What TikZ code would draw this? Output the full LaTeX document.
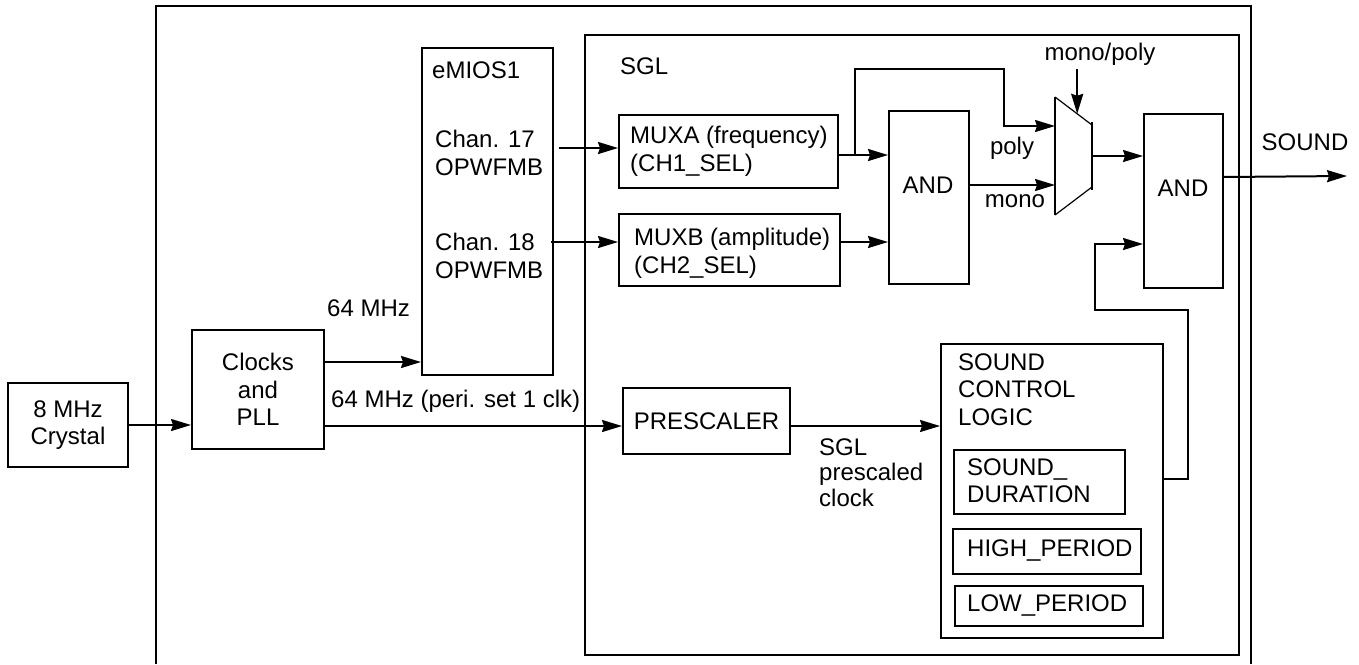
\documentclass[tikz,border=0pt]{standalone}
\usepackage{fontspec}
\setmainfont{Liberation Sans}
\usetikzlibrary{arrows.meta,calc}

\begin{document}
\begin{tikzpicture}[
  x=1pt, y=-1pt,
  every node/.style={font=\fontsize{24}{27.5}\selectfont, inner sep=0pt},
  blk/.style={draw, line width=2pt, anchor=north west, align=center},
  lbl/.style={anchor=west, align=left},
  wire/.style={line width=2pt},
  arr/.style={wire, -{Stealth[length=20pt, width=12pt, inset=2pt]}},
  thinedge/.style={line width=1.2pt}
]
\useasboundingbox (0,0) rectangle (1359,664);

% outer module frame (open at the bottom)
\draw[wire] (156,664) -- (156,6) -- (1251,6) -- (1251,664);

% blocks
\node[blk, minimum width=120pt, minimum height=84pt]  (crystal) at (7,382)   {8 MHz\\Crystal};
\node[blk, minimum width=132pt, minimum height=119pt] (clocks)  at (191,329) {Clocks\\and\\PLL};
\node[blk, minimum width=131pt, minimum height=327pt] (emios)   at (421,47)  {};
\node[blk, minimum width=654pt, minimum height=620pt] (sgl)     at (584,34)  {};
\node[blk, minimum width=219pt, minimum height=73pt]  (muxa)    at (618,114) {};
\node[blk, minimum width=221pt, minimum height=72pt]  (muxb)    at (618,213) {};
\node[blk, minimum width=80pt,  minimum height=173pt] (and1)    at (888,110) {};
\node[blk, minimum width=79pt,  minimum height=174pt] (and2)    at (1143,113) {};
\node[blk, minimum width=167pt, minimum height=66pt]  (pre)     at (622,387) {PRESCALER};
\node[blk, minimum width=222pt, minimum height=294pt] (scl)     at (940,343) {};
\node[blk, minimum width=171pt, minimum height=64pt]  (dur)     at (953,449) {};
\node[blk, minimum width=188pt, minimum height=45pt]  (hp)      at (952,528) {};
\node[blk, minimum width=188pt, minimum height=40pt]  (lp)      at (954,585) {};

% block texts
\node[lbl] (emiost) at (432,70)    {eMIOS1};
\node[lbl] (ch17)   at (435,153)   {Chan. 17\\OPWFMB};
\node[lbl] (ch18)   at (435,256)   {Chan. 18\\OPWFMB};
\node[lbl] (sglt)   at (620,66)    {SGL};
\node[lbl] (muxat)  at (630,151.5) {MUXA (frequency)\\(CH1\_SEL)};
\node[lbl] (muxbt)  at (634,253.5) {MUXB (amplitude)\\(CH2\_SEL)};
\node      (and1t)  at (928,185)   {AND};
\node      (and2t)  at (1183,188)  {AND};
\node[lbl] (sclt)   at (958,389.5) {SOUND\\CONTROL\\LOGIC};
\node[lbl] (durt)   at (967,480.5) {SOUND\_\\DURATION};
\node[lbl] (hpt)    at (967,550)   {HIGH\_PERIOD};
\node[lbl] (lpt)    at (967,605)   {LOW\_PERIOD};

% signal labels
\node[lbl] (f64a)   at (327,308)   {64 MHz};
\node[lbl] (f64b)   at (331,401)   {64 MHz (peri. set 1 clk)};
\node[lbl, font=\fontsize{24}{25.5}\selectfont] (psc) at (819,472.5) {SGL\\prescaled\\clock};
\node      (polyt)  at (1012,148)  {poly};
\node      (monot)  at (1015,201)  {mono};
\node      (mpt)    at (1100,54)   {mono/poly};
\node      (soundt) at (1305,142)  {SOUND};

% mono/poly selector
\coordinate (mxTL) at (1055,97);
\coordinate (mxBL) at (1055,215);
\coordinate (mxTR) at (1092,125);
\coordinate (mxBR) at (1092,187);
\draw[thinedge] (mxTL) -- (mxTR);
\draw[thinedge] (mxBL) -- (mxBR);
\draw[wire] (mxTL) -- (mxBL);
\draw[wire] ([yshift=3pt]mxTR) -- ([yshift=-3pt]mxBR);
\coordinate (selpt) at ($(mxTL)!0.6!(mxTR)$);
\coordinate (sel0) at (mpt.south -| selpt);
\draw[arr] ([yshift=-4pt]sel0) -- (selpt);

% clock paths
\draw[arr] (crystal.east) -- (crystal.east -| clocks.west);
\coordinate (ckA) at ([yshift=27.5pt]clocks.east);
\draw[arr] (ckA) -- (ckA -| emios.west);
\coordinate (ckB) at ([yshift=-36.5pt]clocks.east);
\draw[arr] (ckB) -- (ckB -| pre.west);
\coordinate (preO) at ([yshift=-5pt]pre.east);
\draw[arr] (preO) -- (preO -| scl.west);

% eMIOS channels into the multiplexers
\coordinate (a17) at ([yshift=3.5pt]muxa.west);
\coordinate (s17) at (a17 -| emios.east);
\draw[arr] ([xshift=5pt]s17) -- (a17);
\coordinate (a18) at ([yshift=8pt]muxb.west);
\coordinate (s18) at (a18 -| emios.east);
\draw[arr] ([xshift=-3pt]s18) -- (a18);

% multiplexer outputs
\coordinate (mao) at ([yshift=-3.5pt]muxa.east);
\draw[arr] (mao) -- (mao -| and1.west);
\coordinate (br) at ([xshift=16pt]mao);
\coordinate (polyIn) at (1055,126);
\draw[arr] (br) -- ++(0,-86) -| ([xshift=-51pt]polyIn) -- (polyIn);
\coordinate (mbo) at ([yshift=8pt]muxb.east);
\draw[arr] (mbo) -- (mbo -| and1.west);

% AND gate into selector, selector into output AND
\coordinate (a1o) at ([yshift=12.5pt]and1.east);
\draw[arr] (a1o) -- (a1o -| mxTL);
\coordinate (mout) at (1092,156);
\draw[arr] (mout) -- (mout -| and2.west);

% SOUND output
\coordinate (a2o) at ([yshift=24pt]and2.east);
\coordinate (soundEnd) at (1347,176);
\draw[arr] (a2o) -- (soundEnd);

% sound control logic feedback to output AND
\coordinate (fb0) at ([yshift=12pt]scl.east);
\coordinate (a2b) at ([yshift=-43pt]and2.west);
\draw[arr] (fb0) -- ++(24,0) -- ++(0,-169) -- ++(-93,0) -- ++(0,-66) -- (a2b);
\end{tikzpicture}
\end{document}
